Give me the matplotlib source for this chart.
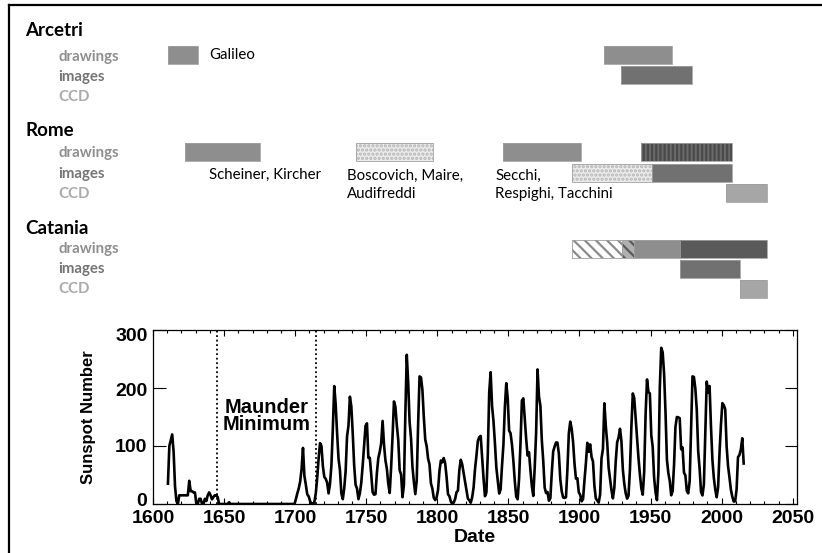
import matplotlib
matplotlib.use('Agg')
import matplotlib.pyplot as plt
from matplotlib.lines import Line2D
from matplotlib.transforms import ScaledTranslation
import numpy as np

# ---------------- data ----------------
# early (group) sunspot numbers, 1610-1699
early_years = list(range(1610, 1700))
early_ssn = [35, 100, 110, 120, 90, 30, 5, 0, 15, 15,
             15, 15, 15, 15, 15, 40, 22, 22, 20, 20,
             0, 0, 9, 9, 0, 0, 9, 5, 15, 20,
             15, 8, 12, 15, 15, 12, 0, 0, 0, 0,
             0, 0, 0, 3, 0, 0, 0, 0, 0, 0] + [0] * 40

# yearly mean sunspot number 1700-2015
years_v2 = list(range(1700, 2016))
ssn_v2 = [
    8.3, 18.3, 26.7, 38.3, 60.0, 96.7, 48.3, 33.3, 16.7, 13.3,
    5.0, 0.0, 0.0, 3.3, 18.3, 45.0, 78.3, 105.0, 100.0, 65.0,
    46.7, 43.3, 36.7, 18.3, 35.0, 66.7, 130.0, 203.3, 171.7, 121.7,
    78.3, 58.3, 18.3, 8.3, 26.7, 56.7, 116.7, 135.0, 185.0, 168.3,
    121.7, 66.7, 33.3, 26.7, 8.3, 18.3, 36.7, 66.7, 100.0, 134.8,
    139.0, 79.5, 79.7, 51.2, 20.3, 16.0, 17.0, 54.0, 79.3, 90.0,
    104.8, 143.2, 102.0, 75.2, 60.7, 34.8, 19.0, 63.0, 116.3, 176.8,
    168.0, 136.0, 110.8, 58.0, 51.0, 11.7, 33.0, 154.2, 257.3, 209.8,
    141.3, 113.5, 64.2, 38.0, 17.0, 40.2, 138.2, 220.0, 218.2, 196.8,
    149.8, 111.0, 100.0, 78.2, 68.3, 35.5, 26.7, 10.7, 6.8, 11.3,
    24.2, 56.7, 75.0, 71.8, 79.2, 70.3, 46.8, 16.8, 13.5, 4.2,
    0.0, 2.3, 8.3, 20.3, 23.2, 59.0, 76.3, 68.3, 52.9, 38.5,
    24.2, 9.2, 6.3, 2.2, 11.4, 28.2, 59.9, 83.0, 108.5, 115.2,
    117.4, 80.8, 44.3, 13.4, 19.5, 85.8, 192.7, 227.3, 168.7, 143.0,
    105.5, 63.3, 40.3, 18.1, 25.1, 65.8, 102.7, 166.3, 208.3, 182.5,
    126.3, 122.0, 102.7, 74.1, 39.0, 12.7, 8.2, 43.4, 104.4, 178.3,
    182.2, 146.6, 112.1, 83.5, 89.2, 57.8, 30.7, 13.9, 62.8, 123.6,
    232.0, 185.3, 169.2, 110.1, 74.5, 28.3, 18.9, 20.7, 5.7, 10.0,
    53.7, 90.5, 99.0, 106.1, 105.8, 86.3, 42.4, 21.8, 11.2, 10.4,
    11.8, 59.5, 121.7, 142.0, 130.0, 106.6, 69.4, 43.8, 44.4, 20.2,
    15.7, 4.6, 8.5, 40.8, 70.1, 105.5, 90.1, 102.8, 80.9, 73.2,
    30.9, 9.5, 6.0, 2.4, 16.1, 79.0, 95.0, 173.6, 134.6, 105.7,
    62.7, 43.5, 23.7, 9.7, 27.9, 74.0, 106.5, 114.7, 129.7, 108.2,
    59.4, 35.1, 18.6, 9.2, 14.6, 60.2, 132.8, 190.6, 182.6, 148.0,
    113.0, 79.2, 50.8, 27.1, 16.1, 55.3, 154.3, 214.7, 193.0, 190.7,
    118.9, 98.3, 45.0, 20.1, 6.6, 54.2, 200.7, 269.3, 261.7, 225.1,
    159.0, 76.4, 53.4, 39.9, 15.0, 22.0, 66.8, 132.9, 150.0, 149.4,
    148.0, 94.4, 97.6, 54.1, 49.2, 22.5, 18.4, 39.3, 131.0, 220.1,
    218.9, 198.9, 162.4, 91.0, 60.5, 20.6, 14.8, 33.9, 123.0, 211.1,
    191.8, 203.3, 133.0, 76.1, 44.9, 25.1, 11.6, 28.9, 88.3, 136.3,
    173.9, 170.4, 163.6, 99.3, 65.3, 45.8, 24.7, 12.6, 4.2, 4.8,
    24.9, 80.8, 84.5, 94.0, 113.3, 69.8]

maunder_start, maunder_end = 1645, 1715
x_ticks = [1600, 1650, 1700, 1750, 1800, 1850, 1900, 1950, 2000, 2050]
y_ticks = [0, 100, 200, 300]

# observatory archive bars: (observatory, kind, start, end, style)
bar_obs = ['Arcetri', 'Arcetri', 'Arcetri',
           'Rome', 'Rome', 'Rome', 'Rome', 'Rome', 'Rome', 'Rome',
           'Catania', 'Catania', 'Catania', 'Catania', 'Catania', 'Catania']
bar_kind = ['drawings', 'drawings', 'images',
            'drawings', 'drawings', 'drawings', 'drawings', 'images', 'images', 'CCD',
            'drawings', 'drawings', 'drawings', 'drawings', 'images', 'CCD']
bar_start = [1610.5, 1917, 1929,
             1622.5, 1743, 1846, 1943, 1895, 1951, 2003,
             1895, 1930, 1938, 1971, 1971, 2013]
bar_end = [1631.5, 1965, 1979,
           1675, 1797, 1901, 2007, 1951, 2007, 2032,
           1930, 1938, 1971, 2032, 2013, 2032]
bar_style = ['mid', 'mid', 'dark',
             'mid', 'dots', 'mid', 'stripes', 'dots', 'dark', 'light',
             'diag', 'diagdark', 'mid', 'darker', 'dark', 'light']

observatories = ['Arcetri', 'Rome', 'Catania']
kinds = ['drawings', 'images', 'CCD']
notes = ['Galileo', 'Scheiner, Kircher', 'Boscovich, Maire,\nAudifreddi',
         'Secchi,\nRespighi, Tacchini']

# ---------------- layout ----------------
W, H, DPI = 822, 553, 100
fig = plt.figure(figsize=(W / DPI, H / DPI), dpi=DPI)
fig.patch.set_facecolor('white')

AX_L, AX_R, AX_T, AX_B = 153, 797, 330, 504
XLIM = (1600, 2053)

def fx(px):
    return px / W

def fy(py):
    return 1 - py / H

# border lines (top and left)
fig.add_artist(Line2D([fx(9), 1.0], [fy(5), fy(5)], color='black', lw=1.6,
                      transform=fig.transFigure))
fig.add_artist(Line2D([fx(9), fx(9)], [fy(5), 0.0], color='black', lw=1.6,
                      transform=fig.transFigure))

# ---------- top panel (archive timeline) ----------
axt = fig.add_axes([fx(AX_L), 0, (AX_R - AX_L) / W, 1])
axt.set_xlim(*XLIM)
axt.set_ylim(H, 0)
axt.axis('off')

title_y = {'Arcetri': 30, 'Rome': 131, 'Catania': 229}
row_y = {'Arcetri': [55, 75, 95], 'Rome': [152, 173, 193], 'Catania': [248.5, 268.5, 288.5]}
label_y = {'Arcetri': [57, 77, 97], 'Rome': [153, 174, 194], 'Catania': [249, 269, 289]}
kind_color = {'drawings': '#8e8e8e', 'images': '#757575', 'CCD': '#aaaaaa'}
BAR_H = 18

cal = ['Lato', 'DejaVu Sans']
for obs in observatories:
    fig.text(fx(25), fy(title_y[obs]), obs, fontsize=13.5, fontweight='bold',
             family=cal, va='center', ha='left', color='black')
    for k, kind in enumerate(kinds):
        fig.text(fx(58), fy(label_y[obs][k]), kind, fontsize=10.8, fontweight='bold',
                 family=cal, va='center', ha='left', color=kind_color[kind])

styles = {
    'mid': dict(fc='#8e8e8e', hatch=None, hc=None),
    'dark': dict(fc='#717171', hatch=None, hc=None),
    'darker': dict(fc='#5a5a5a', hatch=None, hc=None),
    'light': dict(fc='#a6a6a6', hatch=None, hc=None),
    'dots': dict(fc='#ececec', hatch='....', hc='#b5b5b5'),
    'stripes': dict(fc='#6a6a6a', hatch='||||', hc='#4a4a4a'),
    'diag': dict(fc='white', hatch='\\\\\\', hc='#8a8a8a'),
    'diagdark': dict(fc='#b0b0b0', hatch='\\\\\\', hc='#5a5a5a'),
}
plt.rcParams['hatch.linewidth'] = 1.6

for obs, kind, s, e, st in zip(bar_obs, bar_kind, bar_start, bar_end, bar_style):
    y = row_y[obs][kinds.index(kind)]
    sty = styles[st]
    axt.barh(y, e - s, left=s, height=BAR_H, color=sty['fc'], edgecolor='none', lw=0)
    if sty['hatch']:
        axt.barh(y, e - s, left=s, height=BAR_H, color='none', edgecolor=sty['hc'],
                 hatch=sty['hatch'], lw=0)
    axt.barh(y, e - s, left=s, height=BAR_H, color='none', edgecolor='#a0a0a0', lw=0.6)

note_pos = [(209, 55), (209, 175), (347, 185), (495, 185)]
for txt, (px, py) in zip(notes, note_pos):
    fig.text(fx(px), fy(py), txt, fontsize=10.8, family=cal, va='center', ha='left',
             color='black', linespacing=1.35)

# ---------- bottom panel (sunspot number) ----------
ax = fig.add_axes([fx(AX_L), fy(AX_B), (AX_R - AX_L) / W, (AX_B - AX_T) / H])
x_all = np.array(early_years + years_v2, dtype=float) + 0.5
y_all = np.array(early_ssn + ssn_v2, dtype=float)
ax.plot(x_all, y_all, color='black', lw=1.9, solid_joinstyle='round')
ax.set_xlim(*XLIM)
ax.set_ylim(0, 300)
for xv in (maunder_start, maunder_end):
    ax.axvline(xv, color='black', ls=(0, (1, 1.5)), lw=1.3)
ax.text((maunder_start + maunder_end) / 2, 152, 'Maunder\nMinimum', ha='center', va='center',
        fontsize=14.5, fontweight='bold', family='Liberation Sans', linespacing=0.85)

ax.set_xticks(x_ticks)
ax.set_xticks(np.arange(1600, 2054, 10), minor=True)
ax.set_yticks(y_ticks)
ax.tick_params(axis='x', which='major', direction='in', length=4, width=0.8,
               top=True, bottom=True, pad=4)
ax.tick_params(axis='x', which='minor', direction='in', length=2.5, width=0.8,
               top=True, bottom=True)
ax.tick_params(axis='y', which='major', direction='in', length=9, width=0.8,
               left=True, right=True, pad=4)
for lab in ax.get_xticklabels() + ax.get_yticklabels():
    lab.set_fontweight('bold')
    lab.set_fontsize(14)
    lab.set_family('Liberation Sans')
# first label sits slightly above the axis bottom, last slightly below the top
y_label_shift_px = [5, 0, -1, -5]
for lab, dpx in zip(ax.get_yticklabels(), y_label_shift_px):
    lab.set_transform(lab.get_transform() + ScaledTranslation(0, dpx / DPI, fig.dpi_scale_trans))
for sp in ax.spines.values():
    sp.set_linewidth(0.9)
ax.set_xlabel('Date', fontsize=14, fontweight='bold', family='Liberation Sans', labelpad=2)
ax.set_ylabel('Sunspot Number', fontsize=12, fontweight='bold',
              family='Liberation Sans', labelpad=14)

fig.savefig('out.png', dpi=DPI, facecolor='white')
